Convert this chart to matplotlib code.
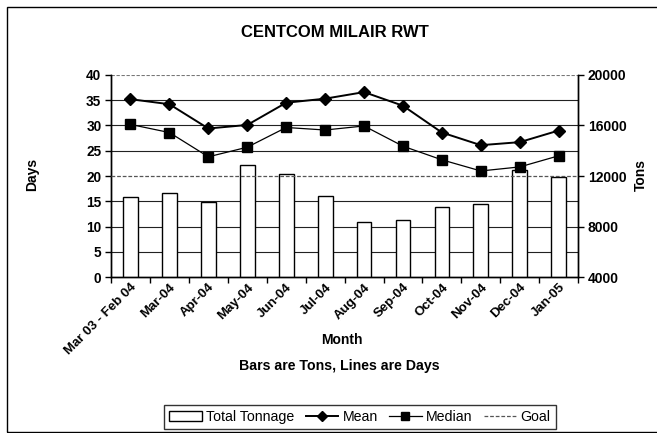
import matplotlib
matplotlib.use("Agg")
import matplotlib.pyplot as plt
from matplotlib.patches import Rectangle
import numpy as np

months = ["Mar 03 - Feb 04", "Mar-04", "Apr-04", "May-04", "Jun-04", "Jul-04",
          "Aug-04", "Sep-04", "Oct-04", "Nov-04", "Dec-04", "Jan-05"]
tonnage = [10360, 10640, 9920, 12880, 12180, 10400, 8400, 8530, 9540, 9770, 12470, 11890]
mean_days = [35.2, 34.2, 29.4, 30.1, 34.5, 35.3, 36.6, 33.9, 28.6, 26.1, 26.7, 29.0]
median_days = [30.2, 28.6, 23.8, 25.7, 29.6, 29.1, 29.9, 25.9, 23.2, 21.0, 21.8, 24.0]
goal_days = 20

plt.rcParams['font.family'] = ['Liberation Sans', 'DejaVu Sans']

fig = plt.figure(figsize=(6.57, 4.33), dpi=100)
ax = fig.add_axes([0.169, 0.360, 0.711, 0.467])
ax2 = ax.twinx()

x = np.arange(len(months))

ax.set_ylim(0, 40)
ax2.set_ylim(4000, 20000)
ax.set_xlim(-0.5, len(months) - 0.5)

# gridlines (drawn on ax2 behind bars)
for d in [5, 10, 15, 25, 30, 35]:
    ax2.axhline(4000 + d * 400, color='#222222', lw=0.8, zorder=0)
ax2.axhline(20000, color='#777777', lw=0.8, ls=(0, (3, 1.5)), zorder=0)

bars = ax2.bar(x, tonnage, width=0.38, bottom=0, color='white', edgecolor='black',
               lw=1.0, zorder=2, label='Total Tonnage')

ax.set_zorder(ax2.get_zorder() + 1)
ax.patch.set_visible(False)
l_mean, = ax.plot(x, mean_days, color='black', lw=1.4, marker='D', ms=6, label='Mean', zorder=4)
l_med, = ax.plot(x, median_days, color='black', lw=0.9, marker='s', ms=6.5, label='Median', zorder=4)
l_goal = ax.axhline(goal_days, color='#555555', lw=0.9, ls=(0, (3, 1.5)), label='Goal', zorder=3)

ax.set_yticks(range(0, 41, 5))
ax2.set_yticks(range(4000, 20001, 4000))
ax.set_xticks(x)
ax.set_xticklabels(months, rotation=45, ha='right', rotation_mode='anchor',
                   fontsize=9.5, fontweight='bold')
ax.set_xticks(np.arange(-0.5, len(months), 1), minor=True)
ax.tick_params(axis='x', which='major', length=0, pad=3)
ax.tick_params(axis='x', which='minor', length=4, direction='out', width=1)
ax.tick_params(axis='y', length=4, direction='out', width=1, labelsize=9.8, pad=3)
ax2.tick_params(axis='y', length=4, direction='out', width=1, labelsize=10, pad=3)
for lab in ax.get_yticklabels() + ax2.get_yticklabels():
    lab.set_fontweight('bold')

for a in (ax, ax2):
    a.spines['top'].set_visible(False)
    for s in ('left', 'right', 'bottom'):
        a.spines[s].set_linewidth(1.0)
        a.spines[s].set_color('black')

fig.text(0.51, 0.926, "CENTCOM MILAIR RWT", ha='center', va='center',
         fontsize=12, fontweight='bold')
fig.text(0.049, 0.596, "Days", rotation=90, ha='center', va='center',
         fontsize=10, fontweight='bold')
fig.text(0.976, 0.596, "Tons", rotation=90, ha='center', va='center',
         fontsize=10, fontweight='bold')
fig.text(0.52, 0.215, "Month", ha='center', va='center', fontsize=10, fontweight='bold')
fig.text(0.517, 0.155, "Bars are Tons, Lines are Days", ha='center', va='center',
         fontsize=10.2, fontweight='bold')

leg = fig.legend(handles=[bars, l_mean, l_med, l_goal],
                 labels=['Total Tonnage', 'Mean', 'Median', 'Goal'],
                 loc='center', bbox_to_anchor=(0.548, 0.037), ncol=4,
                 frameon=True, fancybox=False, edgecolor='black', fontsize=10.2,
                 handlelength=2.3, handletextpad=0.3, columnspacing=0.8,
                 borderpad=0.35, markerscale=0.8)
leg.get_frame().set_linewidth(1.0)

fig.patches.append(Rectangle((7 / 657, 1 / 433), 1.2, 425 / 433, transform=fig.transFigure,
                             fill=False, edgecolor='black', lw=1.0))

fig.savefig("out.png", dpi=100)
